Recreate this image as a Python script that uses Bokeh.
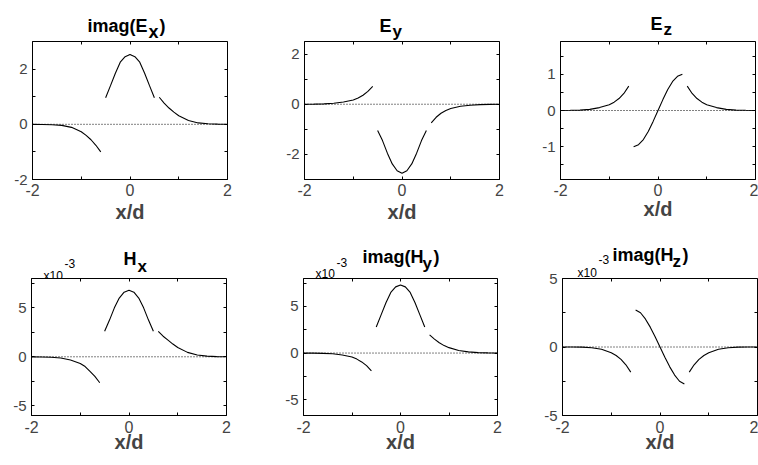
from bokeh.plotting import figure
from bokeh.layouts import row, column
from bokeh.models import Span, Label, LinearAxis, FixedTicker
from bokeh.embed import file_html
from bokeh.resources import INLINE

FONT = "Liberation Sans"

# ---------------- data ----------------
X_LEFT = [-2.0, -1.8, -1.6, -1.4, -1.2, -1.0, -0.9, -0.8, -0.7, -0.6]
X_CORE = [-0.5, -0.4, -0.3, -0.2, -0.1, 0.0, 0.1, 0.2, 0.3, 0.4, 0.5]
X_RIGHT = [0.6, 0.7, 0.8, 0.9, 1.0, 1.2, 1.4, 1.6, 1.8, 2.0]

# imag(Ex)
EX_LEFT = [-0.002, -0.005, -0.015, -0.04, -0.11, -0.27, -0.40, -0.56, -0.76, -1.0]
EX_CORE = [0.96, 1.4, 1.85, 2.25, 2.45, 2.53, 2.45, 2.25, 1.85, 1.4, 0.96]
EX_RIGHT = [0.98, 0.77, 0.59, 0.44, 0.31, 0.14, 0.05, 0.02, 0.005, 0.002]
# Ey
EY_LEFT = [0.002, 0.006, 0.015, 0.04, 0.09, 0.17, 0.25, 0.36, 0.51, 0.71]
EY_CORE = [-1.05, -1.45, -1.95, -2.38, -2.65, -2.75, -2.65, -2.38, -1.95, -1.45, -1.05]
EY_RIGHT = [-0.74, -0.52, -0.36, -0.25, -0.17, -0.08, -0.04, -0.015, -0.006, -0.002]
# Ez
EZ_LEFT = [0.002, 0.005, 0.01, 0.03, 0.08, 0.16, 0.23, 0.33, 0.47, 0.67]
EZ_CORE = [-1.0, -0.94, -0.8, -0.58, -0.3, 0.0, 0.3, 0.58, 0.8, 0.94, 1.0]
EZ_RIGHT = [0.67, 0.47, 0.33, 0.23, 0.16, 0.08, 0.03, 0.01, 0.005, 0.002]
# Hx (x1e-3)
HX_LEFT = [-0.01, -0.02, -0.05, -0.13, -0.33, -0.68, -1.0, -1.5, -2.0, -2.65]
HX_CORE = [2.6, 3.75, 5.0, 6.0, 6.6, 6.8, 6.6, 6.0, 5.0, 3.75, 2.6]
HX_RIGHT = [2.6, 2.1, 1.7, 1.3, 0.95, 0.45, 0.18, 0.07, 0.02, 0.005]
# imag(Hy) (x1e-3)
HY_LEFT = [-0.005, -0.01, -0.03, -0.08, -0.2, -0.42, -0.65, -0.95, -1.35, -1.9]
HY_CORE = [2.8, 4.1, 5.4, 6.5, 7.1, 7.3, 7.1, 6.5, 5.4, 4.1, 2.8]
HY_RIGHT = [1.95, 1.5, 1.1, 0.8, 0.58, 0.28, 0.13, 0.05, 0.02, 0.005]
# imag(Hz) (x1e-3)
HZ_LEFT = [-0.002, -0.005, -0.01, -0.05, -0.17, -0.42, -0.62, -0.9, -1.3, -1.83]
HZ_CORE = [2.7, 2.5, 2.05, 1.45, 0.75, 0.0, -0.75, -1.45, -2.05, -2.5, -2.7]
HZ_RIGHT = [-1.83, -1.3, -0.9, -0.62, -0.42, -0.17, -0.05, -0.01, -0.005, -0.002]

X_TICKS = [-2, 0, 2]
X_MINOR = [-1, 1]
X_LABELS = {-2: "-2", 0: "0", 2: "2"}


def tick_style(ax, major, minor, tin, tout):
    ax.ticker = FixedTicker(ticks=major, minor_ticks=minor)
    ax.major_tick_in = tin
    ax.major_tick_out = tout
    ax.minor_tick_in = tin
    ax.minor_tick_out = tout
    ax.axis_line_color = "black"
    ax.major_tick_line_color = "black"
    ax.minor_tick_line_color = "black"


def hide_labels(ax):
    ax.major_label_text_color = None
    ax.major_label_text_font_size = "1px"
    ax.major_label_standoff = 0


def panel(s, top):
    p = figure(width=s["w"], height=s["h"], x_range=(-2, 2), y_range=s["yr"],
               output_backend="svg", toolbar_location=None,
               x_axis_location=None, y_axis_location=None,
               min_border_left=s["l"], min_border_right=s["r"],
               min_border_top=top, min_border_bottom=s["b"])
    p.grid.visible = False
    p.outline_line_color = "black"
    p.border_fill_alpha = 0

    # labelled bottom axis
    xb = LinearAxis(axis_label="x/d")
    tick_style(xb, X_TICKS, X_MINOR, 3, 0)
    xb.major_label_overrides = X_LABELS
    xb.major_label_text_font = FONT
    xb.major_label_text_font_size = "16px"
    xb.major_label_standoff = s["ts"]
    xb.axis_label_text_font = FONT
    xb.axis_label_text_font_size = "20px"
    xb.axis_label_text_font_style = "bold"
    xb.axis_label_standoff = s["xs"]
    p.add_layout(xb, "below")
    # ticks along the top edge
    xt = LinearAxis(fixed_location=s["yr"][1])
    tick_style(xt, X_TICKS, X_MINOR, 0, 3)
    hide_labels(xt)
    p.add_layout(xt, "below")

    # labelled left axis
    yl = LinearAxis()
    tick_style(yl, s["ymaj"], s["ymin"], 3, 0)
    yl.major_label_overrides = s["ylab"]
    yl.major_label_text_font = FONT
    yl.major_label_text_font_size = "15px"
    yl.major_label_standoff = 5
    p.add_layout(yl, "left")
    # ticks along the right edge
    yr_ = LinearAxis(fixed_location=2)
    tick_style(yr_, s["ymaj"], s["ymin"], 0, 3)
    hide_labels(yr_)
    p.add_layout(yr_, "left")

    p.add_layout(Span(location=0, dimension="width", line_color="black",
                      line_width=1, line_dash="1 2"))
    for xs, ys in s["series"]:
        p.line(xs, ys, line_color="black", line_width=1.1)
    return p


def strip(height, parts):
    # a text-only band that carries the panel titles and exponent markers
    p = figure(width=758, height=height, x_range=(0, 758), y_range=(height, 0),
               output_backend="svg", toolbar_location=None,
               x_axis_location=None, y_axis_location=None,
               min_border=0)
    p.grid.visible = False
    p.outline_line_color = None
    for text, px, py, size, style in parts:
        p.add_layout(Label(x=px, y=py, text=text, text_font=FONT,
                           text_font_size=size, text_font_style=style,
                           text_color="black", text_align="left",
                           text_baseline="alphabetic"))
    return p


S1 = 41        # top title band height
S2 = 50        # middle title band height (starts at 232)
LOWER_TOP = 10  # top border of the lower plots (room for their top tick label)
OVERLAP = 232 + S2 - (278 - LOWER_TOP)  # lower row slides up under the band

specs = [
    dict(w=270, h=191, l=32, r=43, b=53, yr=(-2, 3), ts=4, xs=2,
         ymaj=[-2, 0, 2], ymin=[-1, 1], ylab={-2: "-2", 0: "0", 2: "2"},
         series=[(X_LEFT, EX_LEFT), (X_CORE, EX_CORE), (X_RIGHT, EX_RIGHT)]),
    dict(w=260, h=191, l=34, r=31, b=53, yr=(-3, 2.5), ts=4, xs=2,
         ymaj=[-2, 0, 2], ymin=[-1, 1], ylab={-2: "-2", 0: "0", 2: "2"},
         series=[(X_LEFT, EY_LEFT), (X_CORE, EY_CORE), (X_RIGHT, EY_RIGHT)]),
    dict(w=228, h=191, l=30, r=3, b=53, yr=(-1.9, 1.9), ts=4, xs=-1,
         ymaj=[-1, 0, 1], ymin=[-1.5, -0.5, 0.5, 1.5], ylab={-1: "-1", 0: "0", 1: "1"},
         series=[(X_LEFT, EZ_LEFT), (X_CORE, EZ_CORE), (X_RIGHT, EZ_RIGHT)]),
    dict(w=270, h=187 + LOWER_TOP, l=31, r=44, b=50, yr=(-6, 8), ts=5, xs=-5,
         ymaj=[-5, 0, 5], ymin=[-2.5, 2.5, 7.5], ylab={-5: "-5", 0: "0", 5: "5"},
         series=[(X_LEFT, HX_LEFT), (X_CORE, HX_CORE), (X_RIGHT, HX_RIGHT)]),
    dict(w=260, h=187 + LOWER_TOP, l=33, r=33, b=50, yr=(-6.7, 8), ts=5, xs=-5,
         ymaj=[-5, 0, 5], ymin=[-2.5, 2.5, 7.5], ylab={-5: "-5", 0: "0", 5: "5"},
         series=[(X_LEFT, HY_LEFT), (X_CORE, HY_CORE), (X_RIGHT, HY_RIGHT)]),
    dict(w=228, h=187 + LOWER_TOP, l=32, r=1, b=50, yr=(-5, 5), ts=5, xs=-5,
         ymaj=[-5, 0, 5], ymin=[-2.5, 2.5], ylab={-5: "-5", 0: "0", 5: "5"},
         series=[(X_LEFT, HZ_LEFT), (X_CORE, HZ_CORE), (X_RIGHT, HZ_RIGHT)]),
]

TOP_PARTS = [
    ("imag(E", 87, 25, "18px", "bold"), ("x", 148, 31, "18px", "bold"), (")", 159, 25, "18px", "bold"),
    ("E", 379, 25, "18px", "bold"), ("y", 392, 31, "17px", "bold"),
    ("E", 650, 23, "18px", "bold"), ("z", 663, 29, "17px", "bold"),
]
MID_PARTS = [
    ("H", 123, 26, "18px", "bold"), ("x", 137, 34, "17px", "bold"),
    ("x10", 43, 43, "12px", "normal"), ("-3", 64, 31, "12px", "normal"),
    ("imag(H", 362, 24, "18px", "bold"), ("y", 422, 31, "17px", "bold"), (")", 433, 24, "18px", "bold"),
    ("x10", 315, 41, "12px", "normal"), ("-3", 336, 30, "12px", "normal"),
    ("imag(H", 612, 22, "18px", "bold"), ("z", 672, 29, "17px", "bold"), (")", 682, 22, "18px", "bold"),
    ("x10", 577, 40, "12px", "normal"), ("-3", 598, 27, "12px", "normal"),
]

figs = [panel(s, 0) for s in specs[:3]] + [panel(s, LOWER_TOP) for s in specs[3:]]

lower = row(figs[3], figs[4], figs[5], spacing=0, margin=(-OVERLAP, 0, 0, 0))
layout = column(strip(S1, TOP_PARTS),
                row(figs[0], figs[1], figs[2], spacing=0),
                strip(S2, MID_PARTS),
                lower, spacing=0)

open("out.html", "w").write(file_html(layout, INLINE))
